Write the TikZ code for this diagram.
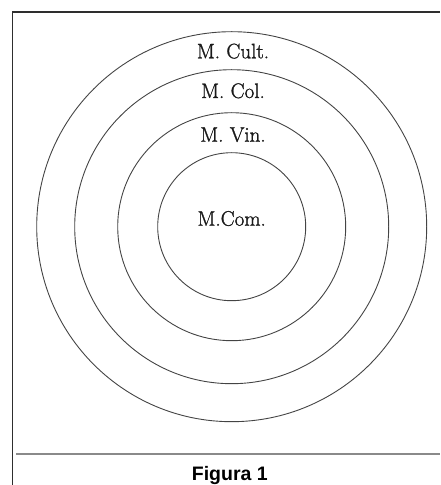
\documentclass[tikz,border=0pt]{standalone}
\usepackage{fontspec}
\setsansfont{Liberation Sans}
\newfontfamily\ringfont[FakeBold=1.2]{Latin Modern Roman}
\usetikzlibrary{positioning}
\definecolor{framegray}{HTML}{2E2E2E}
\definecolor{rulegray}{HTML}{8A8A8A}
\definecolor{ringgray}{HTML}{444444}
\tikzset{
  ring/.style={circle,draw=ringgray,line width=0.9pt,inner sep=0pt},
  ringlabel/.style={font=\ringfont\fontsize{21}{24}\selectfont,text=black!90,anchor=base,inner sep=0pt},
  caption/.style={font=\sffamily\bfseries\fontsize{19.5}{22}\selectfont,anchor=base,inner sep=0pt}
}
\begin{document}
\begin{tikzpicture}[x=1pt,y=1pt]
\path[use as bounding box] (0,0) rectangle (440,485);
% frame
\draw[framegray,line width=1.2pt] (12.5,0)--(12.5,473)--(440,473);
\draw[rulegray,line width=1.3pt] (16,31)--(440,31);
% rings
\coordinate (c) at (231.7,258.3);
\node[ring,minimum size=390pt] (cult) at (c) {};
\node[ring,minimum size=314pt] (col) at (c) {};
\node[ring,minimum size=228pt] (vin) at (c) {};
\node[ring,minimum size=148pt] (com) at (c) {};
% labels
\node[ringlabel] (lcult) at (233,426.7) {M. Cult.};
\node[ringlabel] (lcol) at (233,387) {M. Col.};
\node[ringlabel] (lvin) at (233,343.3) {M. Vin.};
\node[ringlabel] (lcom) at (231.7,259.3) {M.Com.};
\node[caption] (fig) at (229.8,4.3) {Figura 1};
\end{tikzpicture}
\end{document}
